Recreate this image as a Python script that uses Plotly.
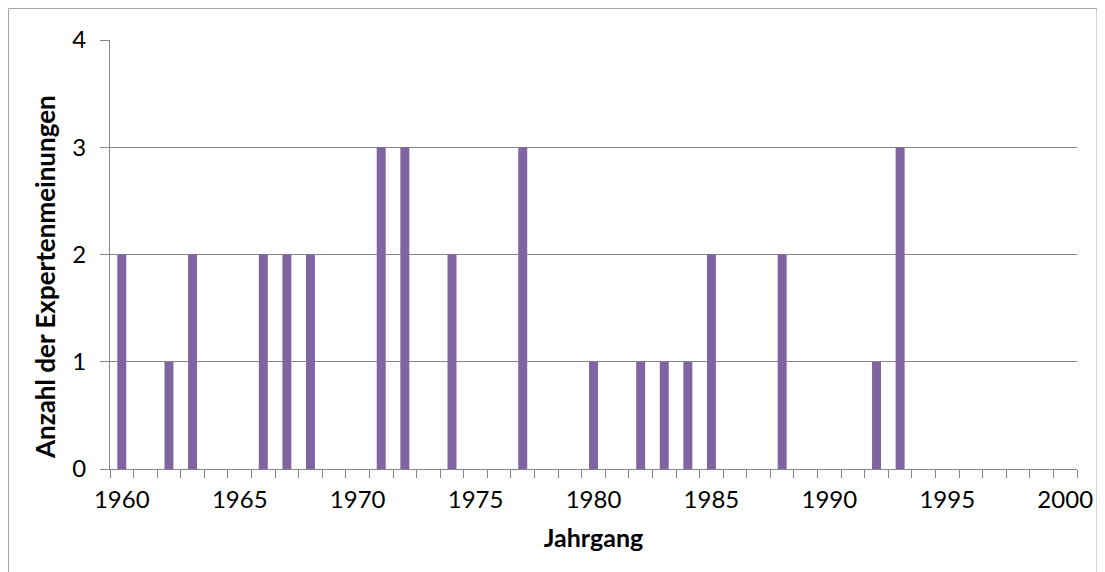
import plotly.graph_objects as go

# Jahrgang und Anzahl der Expertenmeinungen
years = [1960, 1962, 1963, 1966, 1967, 1968, 1971, 1972, 1974, 1977,
         1980, 1982, 1983, 1984, 1985, 1988, 1992, 1993]
counts = [2, 1, 2, 2, 2, 2, 3, 3, 2, 3,
          1, 1, 1, 1, 2, 2, 1, 3]

# page body has an 8px margin, so the figure is a bit smaller than the window
OFF = 8
W, H = 1105 - OFF, 572 - OFF
L, T = 110 - OFF, 40 - OFF
pw, ph = 967, 429
R, B = W - L - pw, H - T - ph
grey = "#868686"
font = "Lato, Calibri, Carlito, sans-serif"

fig = go.Figure(data=[go.Bar(x=years, y=counts, width=0.38,
                             marker=dict(color="#8064A2", line=dict(width=0)))])

fig.update_layout(
    width=W, height=H,
    margin=dict(l=L, r=R, t=T, b=B),
    plot_bgcolor="white", paper_bgcolor="white",
    showlegend=False,
    font=dict(family=font, size=24, color="black"),
)

fig.update_xaxes(
    range=[1959.5, 2000.5],
    tickmode="linear", tick0=1960, dtick=5,
    ticks="", showgrid=False,
    showline=True, linecolor=grey, linewidth=1,
    minor=dict(ticks="outside", tick0=1959.5, dtick=1, ticklen=8,
               tickcolor=grey, showgrid=False),
    tickfont=dict(size=24),
    ticklabelstandoff=9,
    title=dict(text="<b>Jahrgang</b>", font=dict(size=25), standoff=17),
)

fig.update_yaxes(
    range=[0, 4], tickmode="linear", tick0=0, dtick=1,
    showgrid=True, gridcolor=grey, gridwidth=1,
    zeroline=False,
    showline=True, linecolor=grey, linewidth=1,
    ticks="outside", ticklen=9, tickcolor=grey,
    tickfont=dict(size=24),
    ticklabelstandoff=9,
)

# y axis title placed like in the original (a little below centre)
fig.add_annotation(text="<b>Anzahl der Expertenmeinungen</b>", textangle=-90,
                   xref="paper", yref="paper",
                   x=(45 - OFF - L) / pw, y=(T + ph - (277 - OFF)) / ph,
                   xanchor="center", yanchor="middle", showarrow=False,
                   font=dict(size=26))

# chart area border (Excel style)
fig.add_shape(type="rect", xref="paper", yref="paper",
              x0=(0.5 - L) / pw, x1=(1097 - OFF - L) / pw,
              y0=(T + ph - 600) / ph, y1=(T + ph - 0.5) / ph,
              line=dict(color="#A6A6A6", width=1), fillcolor="rgba(0,0,0,0)",
              layer="below")

fig.write_html("out.html")
